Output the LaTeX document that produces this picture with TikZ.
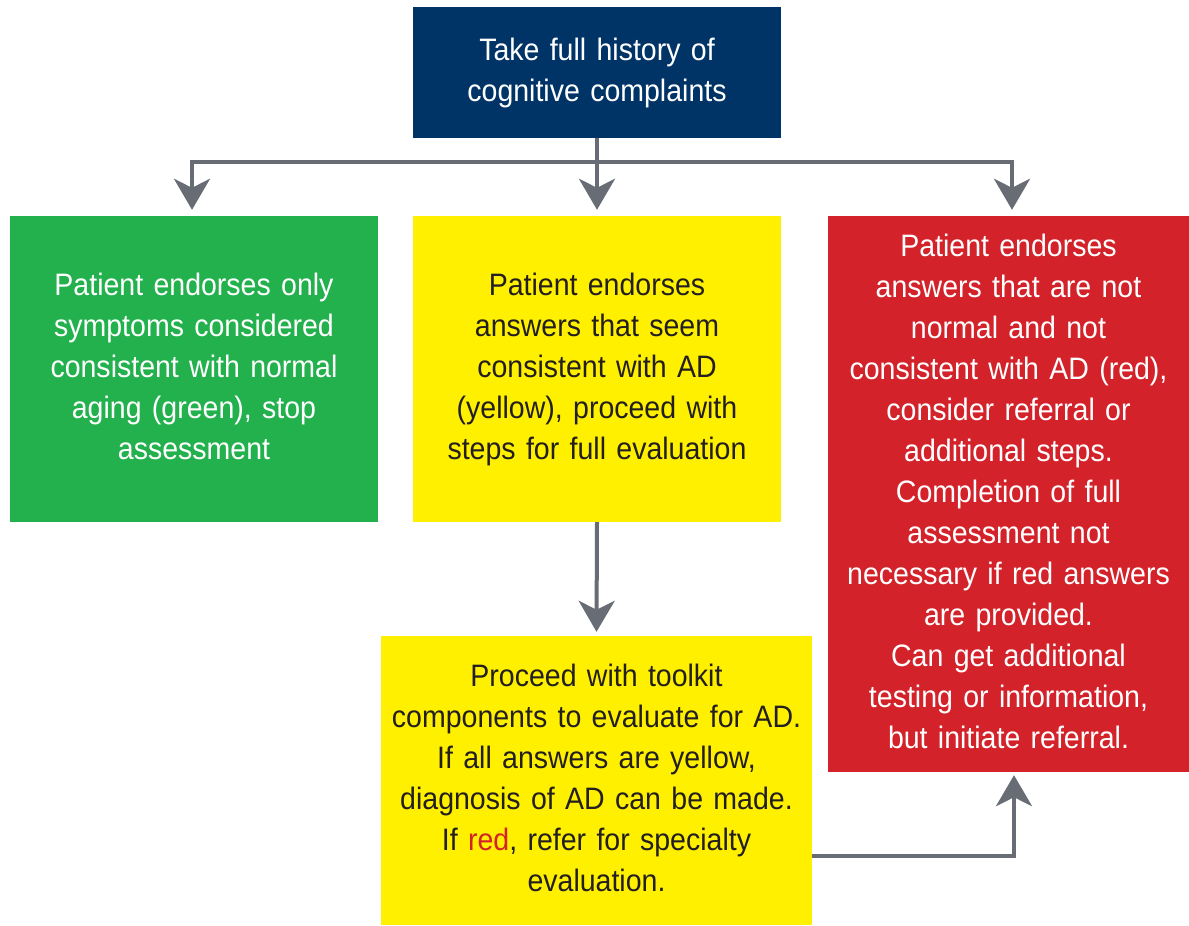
\documentclass[tikz,border=0pt]{standalone}
\usepackage{fontspec}
\setmainfont{Liberation Sans}[FakeStretch=0.92]
\usetikzlibrary{arrows.meta}
\definecolor{navy}{RGB}{0,51,102}
\definecolor{okgreen}{RGB}{34,177,76}
\definecolor{adyellow}{RGB}{255,240,0}
\definecolor{alertred}{RGB}{211,34,42}
\definecolor{linegray}{RGB}{104,109,117}
\definecolor{inkdark}{RGB}{35,31,32}
\tikzset {>={Stealth[length=31pt,width=36pt,inset=9pt]}}
\tikzset{
  box/.style={rectangle, inner sep=0pt, align=center,
    font=\fontsize{31}{41}\selectfont,
    execute at end node={\rule[-6pt]{0pt}{0pt}}},
  conn/.style={->, draw=linegray, line width=4pt, line join=miter}
}

\begin{document}
\begin{tikzpicture}[x=1pt,y=-1pt]
\useasboundingbox (0,0) rectangle (1189,926);

% Top box
\node [box, fill=navy, text=white, minimum width=368pt, minimum height=131pt,
  text width=360pt] (history) at (597,72.5)
  {Take full history of\\cognitive complaints\rule[-4pt]{0pt}{0pt}};

% Three outcomes
\node [box, fill=okgreen, text=white, minimum width=368pt, minimum height=306pt,
  text width=360pt] (green) at (194,369)
  {Patient endorses only\\symptoms considered\\consistent with normal\\aging (green), stop\\assessment};
\node [box, fill=adyellow, text=inkdark, minimum width=368pt, minimum height=306pt,
  text width=360pt] (yellow) at (597,369)
  {Patient endorses\\answers that seem\\consistent with AD\\(yellow), proceed with\\steps for full evaluation};
\node [box, fill=alertred, text=white, minimum width=361pt, minimum height=556pt,
  text width=355pt] (red) at (1008.5,494)
  {Patient endorses\\answers that are not\\normal and not\\consistent with AD (red),\\consider referral or\\additional steps.\\Completion of full\\assessment not\\necessary if red answers\\are provided.\\Can get additional\\testing or information,\\but initiate referral.};

% Toolkit box
\node [box, fill=adyellow, text=inkdark, minimum width=431pt, minimum height=289pt,
  text width=425pt] (toolkit) at (596.5,780.5)
  {Proceed with toolkit\\components to evaluate for AD.\\If all answers are yellow,\\diagnosis of AD can be made.\\If \textcolor{alertred}{red}, refer for specialty\\evaluation.};

% Connectors
\coordinate (split) at (597,162);
\draw [conn, shorten >=6pt] (history.south) -- (split) -| ([xshift=-2pt]green.north);
\draw [conn, shorten >=6pt] (history.south) -- (yellow.north);
\draw [conn, shorten >=6pt] (split) -| ([xshift=3.5pt]red.north);
\draw [conn, shorten >=4pt] (yellow.south) -- (toolkit.north);
\draw [conn, shorten >=3pt] ([yshift=-75.5pt]toolkit.east) -| ([xshift=5.5pt]red.south);

\end{tikzpicture}
\end{document}
